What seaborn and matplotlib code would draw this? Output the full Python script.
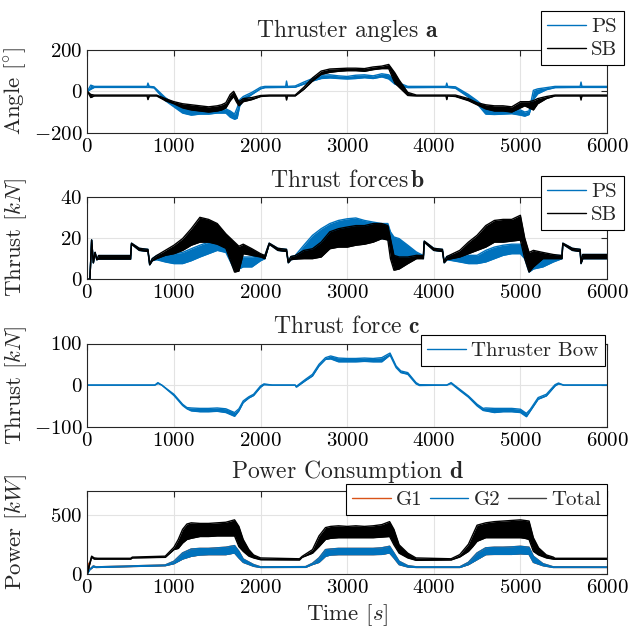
import numpy as np
import pandas as pd
import matplotlib
matplotlib.use("Agg")
import matplotlib.pyplot as plt
from matplotlib.lines import Line2D
import seaborn as sns

# ---------------- data (time in s) ----------------
# Thruster angles [deg]: lower / upper envelope of the noisy signal
ps_ang_t = [0, 40, 80, 690, 700, 715, 770, 900, 1000, 1100, 1200, 1300, 1400, 1500, 1600,
            1650, 1700, 1730, 1760, 1800, 1900, 2000, 2050, 2290, 2300, 2310, 2400, 2500, 2600,
            2700, 2800, 2900, 3000, 3100, 3200, 3300, 3400, 3480, 3550, 3600, 3700, 4140, 4150,
            4160, 4250, 4400, 4500, 4600, 4700, 4800, 4900, 5000, 5050, 5100, 5150, 5200, 5300,
            5400, 5690, 5700, 5710, 6000]
ps_ang_lo = [0, 10, 19, 19, 19, 19, 17, -45, -75, -105, -115, -110, -110, -105, -105,
             -125, -135, -130, -70, -45, -15, 12, 18, 19, 19, 19, 20, 35, 50,
             62, 65, 62, 60, 62, 66, 62, 70, 60, 35, 28, 18, 19, 19,
             19, 15, -28, -60, -110, -112, -110, -108, -115, -120, -112, -40, -12, 8,
             18, 19, 19, 19, 19]
ps_ang_hi = [0, 30, 24, 24, 40, 24, 22, -30, -60, -80, -90, -90, -90, -90, -85,
             -95, -110, -80, -40, -25, -5, 20, 24, 24, 50, 24, 26, 45, 62,
             78, 80, 75, 72, 78, 80, 75, 85, 80, 55, 40, 24, 24, 40,
             24, 22, -15, -45, -80, -90, -90, -85, -90, -100, -95, 5, 12, 18,
             24, 24, 45, 24, 24]

sb_ang_t = [0, 40, 80, 690, 700, 715, 800, 900, 1000, 1100, 1200, 1300, 1400, 1500,
            1550, 1600, 1650, 1690, 1720, 1750, 1800, 1900, 2000, 2100, 2290, 2300, 2310, 2400,
            2500, 2600, 2700, 2800, 2900, 3000, 3100, 3200, 3300, 3400, 3480, 3550, 3600, 3650,
            3700, 3800, 4140, 4150, 4160, 4250, 4400, 4500, 4600, 4700, 4800, 4900, 5000, 5050,
            5100, 5150, 5200, 5300, 5400, 5690, 5700, 5710, 6000]
sb_ang_lo = [0, -30, -22, -22, -40, -22, -22, -45, -60, -80, -90, -95, -100, -95,
             -90, -80, -45, -25, -50, -70, -50, -40, -25, -22, -22, -42, -22, -22,
             10, 50, 82, 92, 97, 100, 100, 97, 105, 110, 110, 40, 20, 0,
             -20, -22, -22, -40, -22, -25, -45, -65, -85, -95, -95, -100, -80, -70,
             -80, -90, -60, -35, -22, -22, -42, -22, -22]
sb_ang_hi = [0, -15, -18, -18, -18, -18, -18, -35, -50, -60, -65, -70, -75, -70,
             -65, -55, -15, 0, -25, -50, -35, -30, -20, -18, -18, -18, -18, -18,
             20, 65, 98, 108, 110, 112, 112, 110, 118, 122, 130, 90, 55, 25,
             -5, -18, -18, -18, -18, -18, -35, -55, -65, -70, -70, -75, -50, -50,
             -50, -45, -35, -25, -18, -18, -18, -18, -18]

# Azimuth thrust forces [kN]
thr_t = [0, 30, 50, 70, 90, 110, 130, 500, 510, 600, 700, 720, 750, 800,
         900, 1000, 1100, 1200, 1300, 1400, 1500, 1600, 1700, 1750, 1800, 1900, 2000, 2050,
         2100, 2200, 2300, 2320, 2350, 2400, 2500, 2600, 2700, 2800, 2900, 3000, 3100, 3200,
         3300, 3400, 3470, 3500, 3540, 3600, 3700, 3800, 3880, 3890, 4000, 4100, 4120, 4150,
         4300, 4400, 4500, 4600, 4700, 4800, 4900, 5000, 5050, 5100, 5150, 5260, 5380, 5480,
         5490, 5600, 5690, 5700, 5720, 6000]
sb_thr_lo = [0, 0, 19, 8, 13, 9.5, 9.8, 9.8, 17, 14, 13.5, 7, 9, 10,
             11.6, 12.4, 14, 16.5, 18, 18, 17, 15, 3.5, 4, 12.4, 11.6, 10.8, 10,
             17, 14, 13.5, 8, 9.5, 9.8, 10, 10, 10.8, 14.8, 15.6, 15.6, 16.5, 17,
             18, 19.7, 19, 10, 4.4, 5, 7.6, 10, 10, 18, 14, 13.5, 8, 9.5,
             10.8, 12.4, 14, 15.6, 18, 18, 18.5, 19, 10, 3.5, 6, 10, 10, 10,
             17, 14, 13.5, 7.6, 10, 10]
sb_thr_hi = [0, 0, 19, 8, 13, 9.5, 11.5, 11.5, 17.5, 15, 14.5, 7.5, 10, 11.5,
             14, 16.5, 19.7, 24.5, 30, 29, 27, 22, 18, 16, 17, 14.8, 12.4, 11.5,
             17.5, 15, 14.5, 8.5, 11, 11.5, 14, 14.8, 18, 23, 24.5, 25.3, 26, 26,
             27, 27, 26, 19.7, 11.6, 10.8, 10.8, 11.6, 11.5, 18.5, 15, 14.5, 8.5, 11,
             14, 18, 21.3, 26, 28.5, 29, 29, 31, 20, 13, 14, 13, 12, 11.5,
             17.5, 15, 14.5, 8, 12, 12]
ps_thr_lo = [0, 0, 19, 8, 13, 9.5, 9.8, 9.8, 17, 14, 13.5, 7, 9, 9.5,
             8.4, 7.6, 7.6, 9, 10.8, 12.4, 14, 13, 4.4, 5, 6, 6, 9, 10,
             17, 14, 13.5, 8, 9.5, 9.8, 10.8, 13, 18, 18, 20.5, 21.3, 22, 22,
             21.3, 19.7, 19.7, 15.6, 10.8, 10, 10, 10.8, 10, 18, 14, 13.5, 8, 9.5,
             8.4, 7.6, 7.6, 8.4, 10, 11.6, 12.4, 12.4, 10, 3.5, 5, 6, 8.4, 10,
             17, 14, 13.5, 7.6, 10, 10]
ps_thr_hi = [0, 0, 19, 8, 13, 9.5, 11.5, 11.5, 17.5, 15, 14.5, 7.5, 10, 11.5,
             12.4, 12.4, 13, 14.8, 16.5, 18, 18, 18, 16.5, 11.6, 10.8, 10.8, 11.6, 11.5,
             17.5, 15, 14.5, 8.5, 11, 11.5, 16.5, 21.3, 24.5, 27, 28.5, 29.3, 29.7, 28.5,
             27.7, 27, 27, 23, 20.5, 19.7, 16.5, 13.2, 11.5, 18.5, 15, 14.5, 8.5, 11,
             12.4, 11.6, 11.6, 14, 15.6, 16.5, 17, 17, 16, 10, 10.8, 11.6, 11.6, 11.5,
             17.5, 15, 14.5, 8, 12, 12]

# Bow tunnel thruster force [kN]
bow_t = [0, 780, 815, 860, 1000, 1100, 1150, 1200, 1300, 1400, 1500, 1600, 1700, 1750,
         1800, 1865, 1920, 2000, 2040, 2135, 2400, 2413, 2520, 2600, 2675, 2750, 2810, 2900,
         3000, 3100, 3200, 3300, 3400, 3495, 3565, 3620, 3700, 3795, 3835, 4150, 4200, 4300,
         4400, 4500, 4570, 4600, 4700, 4800, 4900, 5000, 5070, 5115, 5205, 5300, 5400, 5440,
         5500, 6000]
bow_lo = [0, 0, 4, 0, -25, -49, -57, -62, -64, -64, -63, -66, -75, -62,
          -42, -31, -25, -5, 1, 0, 0, -5, 11, 22, 46, 62, 63, 56,
          56, 56, 57, 56, 56, 72, 42, 30, 26, 3, -1, 0, 4, -13,
          -29, -50, -61, -62, -66, -64, -64, -66, -76, -62, -34, -26, -2, 3,
          0, 0]
bow_hi = [0, 0, 6, 0, -22, -46, -54, -55, -56, -56, -55, -57, -66, -57,
          -38, -28, -22, -2, 3, 0, 0, -3, 14, 26, 50, 66, 70, 65,
          64, 64, 65, 64, 66, 77, 46, 34, 30, 6, 1, 0, 6, -10,
          -26, -46, -56, -55, -56, -56, -56, -58, -68, -58, -30, -22, 1, 5,
          0, 0]

# Power consumption [kW]
tot_t = [0, 20, 50, 80, 120, 500, 520, 900, 1000, 1050, 1100, 1150, 1200, 1300,
         1400, 1500, 1600, 1700, 1750, 1800, 1865, 1920, 2000, 2450, 2480, 2600, 2675, 2750,
         2810, 2900, 3000, 3100, 3200, 3300, 3400, 3490, 3540, 3600, 3700, 3795, 4200, 4300,
         4400, 4450, 4500, 4600, 4700, 4800, 4900, 5000, 5050, 5100, 5150, 5210, 5300, 5380,
         5400, 6000]
tot_lo = [0, 60, 140, 125, 125, 125, 135, 140, 205, 215, 260, 290, 300, 315,
          315, 320, 320, 320, 230, 190, 150, 135, 120, 118, 140, 175, 230, 290,
          300, 305, 305, 305, 305, 305, 310, 315, 245, 175, 135, 115, 118, 143,
          190, 230, 275, 305, 305, 305, 305, 305, 300, 290, 190, 160, 135, 125,
          124, 124]
tot_hi = [0, 70, 150, 135, 132, 132, 142, 150, 225, 290, 375, 420, 430, 425,
          425, 430, 435, 455, 400, 290, 205, 160, 135, 128, 148, 205, 320, 390,
          400, 405, 400, 405, 400, 405, 415, 440, 375, 245, 175, 135, 128, 163,
          250, 330, 410, 430, 440, 445, 450, 455, 450, 445, 305, 220, 160, 142,
          132, 132]

g2_t = [0, 30, 70, 100, 900, 1000, 1100, 1200, 1300, 1400, 1500, 1600, 1700, 1750,
        1800, 1920, 2000, 2520, 2600, 2675, 2750, 2810, 2900, 3000, 3100, 3200, 3300, 3400,
        3490, 3540, 3600, 3700, 3800, 4300, 4400, 4500, 4600, 4700, 4800, 4900, 5000, 5100,
        5150, 5260, 5380, 6000]
g2_lo = [0, 37, 60, 55, 70, 87, 126, 149, 160, 163, 163, 163, 177, 135,
         98, 65, 55, 56, 80, 98, 149, 160, 163, 163, 163, 163, 163, 165,
         177, 135, 79, 59, 55, 55, 79, 121, 163, 165, 165, 165, 170, 165,
         98, 70, 55, 55]
g2_hi = [0, 40, 68, 60, 76, 107, 177, 210, 215, 215, 220, 225, 239, 191,
         126, 79, 60, 62, 90, 135, 205, 210, 215, 215, 215, 215, 215, 220,
         233, 177, 107, 70, 60, 60, 98, 177, 220, 225, 225, 228, 233, 225,
         149, 87, 60, 59]

# G1 start-up transient; afterwards it shares the load equally with G2
g1_start_t = [0, 10, 20]
g1_start_v = [0, 90, 30]

C_BLUE = "#0072BD"
C_ORANGE = "#D95319"
C_BLACK = "#000000"

# ---------------- style ----------------
sns.set_style("white")
plt.rcParams.update({
    "font.family": ["serif"],
    "font.serif": ["cmr10"],
    "mathtext.fontset": "cm",
    "axes.formatter.use_mathtext": True,
    "axes.unicode_minus": True,
    "axes.edgecolor": "#262626",
    "axes.linewidth": 0.8,
    "xtick.direction": "in",
    "ytick.direction": "in",
    "xtick.top": True,
    "ytick.right": True,
    "xtick.major.size": 4,
    "ytick.major.size": 4,
    "xtick.major.width": 0.8,
    "ytick.major.width": 0.8,
    "xtick.color": "#262626",
    "ytick.color": "#262626",
    "xtick.labelcolor": "black",
    "ytick.labelcolor": "black",
    "xtick.labelsize": 15,
    "ytick.labelsize": 15,
    "axes.grid": True,
    "grid.color": "#e3e3e3",
    "grid.linewidth": 0.8,
})

W, H = 628, 633
fig = plt.figure(figsize=(W / 100, H / 100), dpi=100)


def px_axes(top, bottom, left=87.3, right=607.0):
    return fig.add_axes([left / W, 1 - bottom / H, (right - left) / W, (bottom - top) / H])


def band(ax, t, lo, hi, color, lw=1.0):
    t = np.asarray(t, float)
    lo = np.asarray(lo, float)
    hi = np.asarray(hi, float)
    ax.fill_between(t, lo, hi, color=color, lw=0, zorder=2)
    sns.lineplot(x=t, y=lo, color=color, lw=lw, ax=ax, estimator=None, sort=False, zorder=2)
    sns.lineplot(x=t, y=hi, color=color, lw=lw, ax=ax, estimator=None, sort=False, zorder=2)


def finish(ax, ylim, yticks, title, pad, ylabel):
    ax.set_xlim(0, 6000)
    ax.set_ylim(*ylim)
    ax.set_xticks([0, 1000, 2000, 3000, 4000, 5000, 6000])
    ax.set_yticks(yticks)
    ax.set_title(title, fontsize=17, pad=pad)
    ax.set_ylabel(ylabel, fontsize=16.5)
    ax.yaxis.set_label_coords(-0.112, 0.5)
    ax.set_xlabel("")
    ax.set_axisbelow(True)
    for s in ax.spines.values():
        s.set_visible(True)


def legend(ax, labels, colors, x0, y0, ncol=1, **kw):
    handles = [Line2D([], [], color=c, lw=1.0) for c in colors]
    leg = ax.legend(handles, labels, loc="upper left", bbox_to_anchor=(x0 / W, 1 - y0 / H),
                    bbox_transform=fig.transFigure, ncol=ncol, fontsize=15, frameon=True,
                    fancybox=False, framealpha=1, edgecolor="black", borderpad=0.3,
                    handlelength=1.85, handletextpad=0.25, labelspacing=0.22,
                    columnspacing=0.35, borderaxespad=0, **kw)
    leg.get_frame().set_linewidth(0.8)
    leg.set_zorder(10)
    return leg


# (a) thruster angles
ax_a = px_axes(50.0, 132.7)
band(ax_a, ps_ang_t, ps_ang_lo, ps_ang_hi, C_BLUE)
band(ax_a, sb_ang_t, sb_ang_lo, sb_ang_hi, C_BLACK)
finish(ax_a, (-200, 200), [-200, 0, 200], r"Thruster angles $\mathbf{a}$", 9.5, r"Angle $[^{\circ}]$")
legend(ax_a, ["PS", "SB"], [C_BLUE, C_BLACK], 541, 11)

# (b) azimuth thrust forces
ax_b = px_axes(196.7, 279.3)
band(ax_b, thr_t, ps_thr_lo, ps_thr_hi, C_BLUE)
band(ax_b, thr_t, sb_thr_lo, sb_thr_hi, C_BLACK)
finish(ax_b, (0, 40), [0, 20, 40], r"Thrust forces$\,\mathbf{b}$", 7.2, r"Thrust $[kN]$")
legend(ax_b, ["PS", "SB"], [C_BLUE, C_BLACK], 541, 176)

# (c) bow thruster
ax_c = px_axes(343.5, 426.7)
band(ax_c, bow_t, bow_lo, bow_hi, C_BLUE)
finish(ax_c, (-100, 100), [-100, 0, 100], r"Thrust force $\mathbf{c}$", 7.5, r"Thrust $[kN]$")
legend(ax_c, ["Thruster Bow"], [C_BLUE], 421, 335)

# (d) power consumption
ax_d = px_axes(490.7, 574.0)
g1_t = g1_start_t + g2_t[1:]
g1_lo = g1_start_v + g2_lo[1:]
g1_hi = g1_start_v + g2_hi[1:]
band(ax_d, g1_t, g1_lo, g1_hi, C_ORANGE)
band(ax_d, g2_t, g2_lo, g2_hi, C_BLUE)
band(ax_d, tot_t, tot_lo, tot_hi, C_BLACK)
finish(ax_d, (0, 700), [0, 500], r"Power Consumption $\mathbf{d}$", 9.0, r"Power $[kW]$")
ax_d.set_xlabel(r"Time $[s]$", fontsize=16.5)
legend(ax_d, ["G1", "G2", "Total"], [C_ORANGE, C_BLUE, "#404040"], 346, 484, ncol=3)

fig.savefig("out.png", dpi=100)
